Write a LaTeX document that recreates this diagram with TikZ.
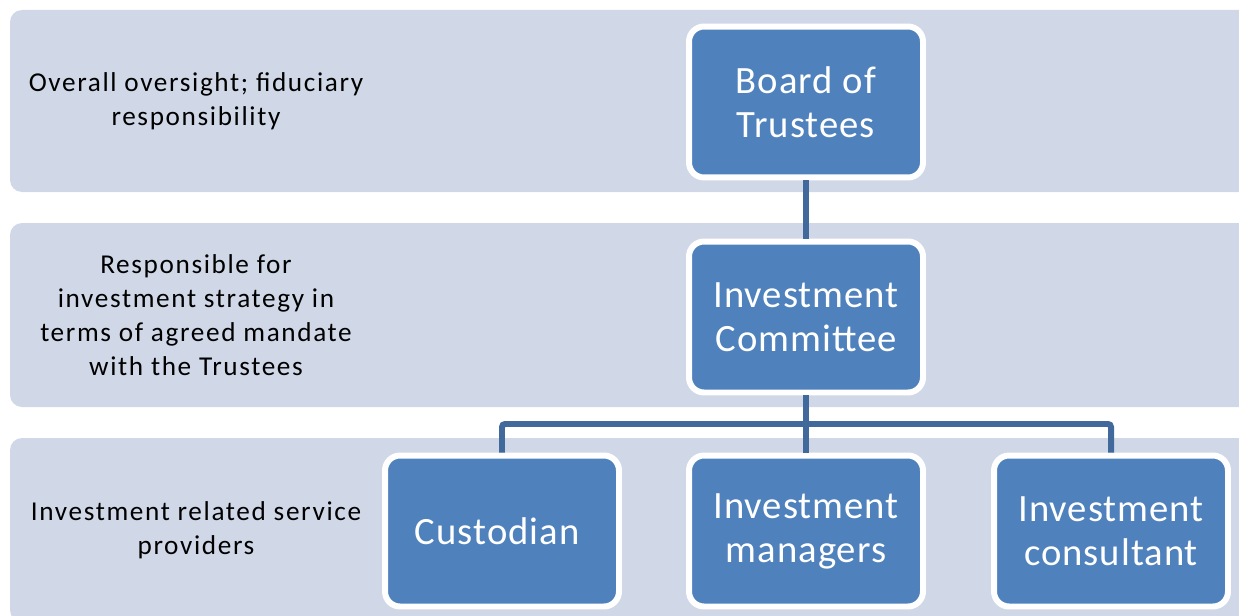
\documentclass[tikz,border=0pt]{standalone}
\usepackage{fontspec}
\setmainfont{Carlito}
\usepackage{tikz}
\usetikzlibrary{positioning}

\definecolor{bandgray}{HTML}{D0D8E8}
\definecolor{boxblue}{HTML}{4F81BD}
\definecolor{linkblue}{HTML}{41699C}

\begin{document}
\begin{tikzpicture}[x = 0.02cm, y = -0.02cm,
    band/.style = { fill = bandgray, rounded corners = 0.24cm },
    role/.style = { draw = white, fill = boxblue, line width = 3.4pt, rounded corners = 0.3cm,
      minimum width = 4.68cm, minimum height = 3.02cm, align = center, text = white,
      font = \fontsize{22}{25}\selectfont\addfontfeature{LetterSpace=2.6} },
    duty/.style = { align = center, text = black,
      font = \fontsize{15.5}{19.3}\selectfont\addfontfeature{LetterSpace=6} },
    link/.style = { draw = linkblue, line width = 3.4pt, rounded corners = 0.06cm }]
      \useasboundingbox (0,0) rectangle (1239,615);
      \clip (0,0) rectangle (1239,615);

      % the three levels
      \fill [band] (10,10) rectangle (1280,192);
      \fill [band] (10,223) rectangle (1280,407);
      \fill [band] (10,438) rectangle (1280,622);

      \node [duty] (lvlone) at (196,101) { Overall oversight; fiduciary \\ responsibility };
      \node [duty] (lvltwo) at (196,315) { Responsible for \\ investment strategy in \\ terms of agreed mandate \\ with the Trustees };
      \node [duty] (lvlthree) at (196,530) { Investment related service \\ providers };

      \node [role] (board) at (806,102) { Board of \\ Trustees };
      \node [role] (cmte) at (806,317) { Investment \\ Committee };
      \node [role] (cust) at (502,531) { Custodian };
      \node [role] (mgrs) at (806,531) { Investment \\ managers };
      \node [role] (cons) at (1111,531) { Investment \\ consultant };

      \coordinate (bus) at (806,424);
      \draw [link] (board) -- (cmte);
      \draw [link] (cmte) -- (bus) -- (mgrs);
      \draw [link] (cust.north) -- (cust.north |- bus) -- (cons.north |- bus) -- (cons.north);

    \end{tikzpicture}
\end{document}
